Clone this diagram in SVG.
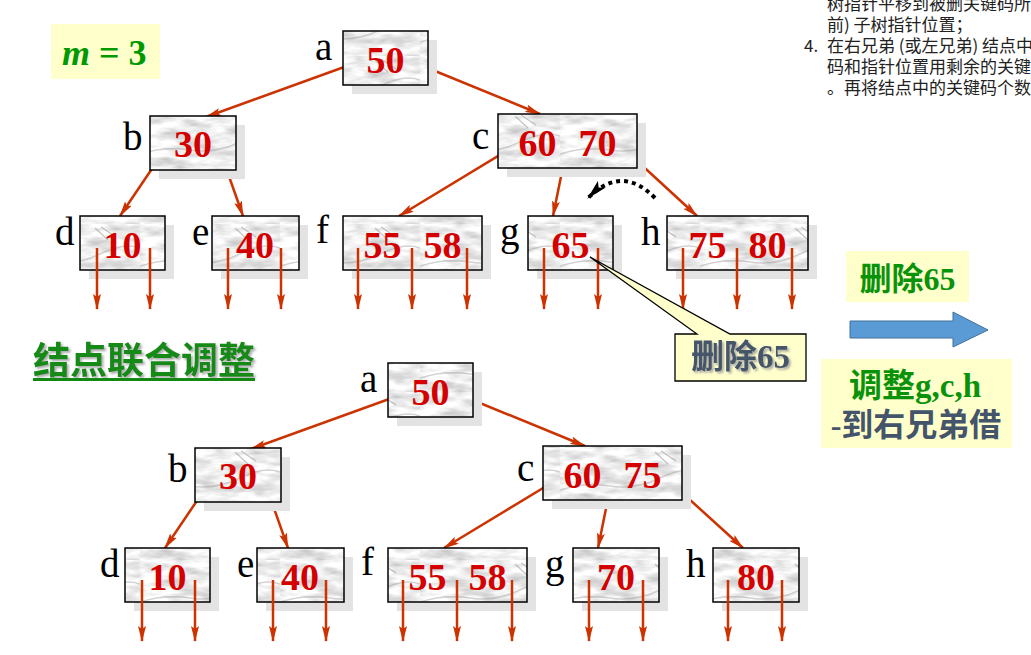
<svg xmlns="http://www.w3.org/2000/svg" width="1031" height="655" viewBox="0 0 1031 655">
<style>
.shadow{fill:#e3e3e3}
.box{fill:url(#marble);stroke:#000;stroke-width:1.5}
.key{font-family:"Liberation Serif",serif;font-weight:bold;font-size:38px;fill:#d40000;text-anchor:middle}
.lbl{font-family:"Liberation Serif",serif;font-size:39px;fill:#000}
.edge{stroke:#cc3300;stroke-width:2.5;fill:none;marker-end:url(#ah)}
.ptr{stroke:#cc3300;stroke-width:2.5;fill:none;marker-end:url(#ah)}
.note{font-family:"Noto Sans CJK SC",sans-serif;font-size:17px;fill:#222}
.cjk{font-family:"Liberation Serif","Noto Sans CJK SC",serif;font-weight:bold}
</style>
<defs>
<marker id="ah" markerUnits="userSpaceOnUse" viewBox="0 0 16 8" markerWidth="16" markerHeight="8" refX="15" refY="4" orient="auto">
<path d="M0,0 L16,4 L0,8 L3,4 Z" fill="#cc3300"/>
</marker>
<marker id="ahk" markerUnits="userSpaceOnUse" viewBox="0 0 20 10" markerWidth="20" markerHeight="10" refX="19" refY="5" orient="auto">
<path d="M0,0 L20,5 L0,10 L4,5 Z" fill="#000"/>
</marker>
<filter id="noise" x="0" y="0" width="100%" height="100%" color-interpolation-filters="sRGB">
<feTurbulence type="fractalNoise" baseFrequency="0.035 0.11" numOctaves="3" seed="7"/>
<feColorMatrix type="matrix" values="0.5 0 0 0 0.68  0.5 0 0 0 0.68  0.5 0 0 0 0.68  0 0 0 0 1"/>
</filter>
<pattern id="marble" patternUnits="userSpaceOnUse" width="140" height="56">
<rect width="140" height="56" fill="#eeeeee" filter="url(#noise)"/>
<path d="M0,42 Q25,34 50,38 T100,30 T140,24" stroke="#a8a8a8" stroke-width="1.5" fill="none" opacity="0.5"/>
<path d="M95,4 L108,16 M101,3 L116,13" stroke="#8a8a8a" stroke-width="1.2" opacity="0.5"/>
</pattern>
<filter id="ts" x="-10%" y="-10%" width="130%" height="140%">
<feDropShadow dx="2" dy="2" stdDeviation="1" flood-color="#9a9a9a" flood-opacity="0.8"/>
</filter>
</defs>

<g id="notes">
<text class="note" x="827" y="10">树指针平移到被删关键码所</text>
<text class="note" x="827" y="31">前) 子树指针位置；</text>
<text class="note" x="804" y="52">4.</text>
<text class="note" x="827" y="52">在右兄弟 (或左兄弟) 结点中</text>
<text class="note" x="827" y="73">码和指针位置用剩余的关键</text>
<text class="note" x="827" y="94">。再将结点中的关键码个数</text>
</g>

<g id="m3">
<rect x="51" y="24" width="109" height="55" fill="#ffffcc"/>
<text x="62" y="65" font-family="Liberation Serif,serif" font-size="36" font-weight="bold" fill="#009900"><tspan font-style="italic">m</tspan> = 3</text>
</g>

<g id="title">
<text x="33" y="374" font-family="Noto Sans CJK SC,sans-serif" font-size="37" font-weight="bold" fill="#128a12" filter="url(#ts)">结点联合调整</text>
<line x1="33" y1="379.5" x2="255" y2="379.5" stroke="#128a12" stroke-width="3"/>
</g>

<g id="connectors">
<line class="edge" x1="358" y1="62" x2="206" y2="117"/>
<line class="edge" x1="413" y1="62" x2="540" y2="114"/>
<line class="edge" x1="166" y1="148" x2="120" y2="216"/>
<line class="edge" x1="219" y1="148" x2="243" y2="216"/>
<line class="edge" x1="513" y1="147" x2="399" y2="216"/>
<line class="edge" x1="567" y1="147" x2="553" y2="216"/>
<line class="edge" x1="622" y1="147" x2="697" y2="216"/>
<line class="edge" x1="403" y1="394" x2="251" y2="449"/>
<line class="edge" x1="458" y1="394" x2="585" y2="446"/>
<line class="edge" x1="211" y1="480" x2="165" y2="548"/>
<line class="edge" x1="264" y1="480" x2="288" y2="548"/>
<line class="edge" x1="558" y1="479" x2="444" y2="548"/>
<line class="edge" x1="612" y1="479" x2="598" y2="548"/>
<line class="edge" x1="667" y1="479" x2="743" y2="548"/>
<path d="M655,198 Q622,164 588,198" stroke="#000" stroke-width="4" stroke-dasharray="4 4" fill="none" marker-end="url(#ahk)"/>
</g>

<g id="node-a">
<rect class="shadow" x="352" y="40" width="85" height="54"/>
<rect class="box" x="343" y="31" width="85" height="54"/>
<text class="lbl" x="315" y="60">a</text>
<text class="key" x="385.5" y="73">50</text>
</g>
<g id="node-b">
<rect class="shadow" x="159" y="125" width="86" height="54"/>
<rect class="box" x="150" y="116" width="86" height="54"/>
<text class="lbl" x="123" y="150">b</text>
<text class="key" x="193" y="157">30</text>
</g>
<g id="node-c">
<rect class="shadow" x="507" y="123" width="139" height="54"/>
<rect class="box" x="498" y="114" width="139" height="54"/>
<text class="lbl" x="472" y="149">c</text>
<text class="key" x="537.5" y="156">60</text>
<text class="key" x="597.5" y="156">70</text>
</g>
<g id="node-d">
<rect class="shadow" x="89" y="225" width="85" height="54"/>
<rect class="box" x="80" y="216" width="85" height="54"/>
<text class="lbl" x="55" y="245">d</text>
<text class="key" x="122.5" y="258">10</text>
<line class="ptr" x1="97" y1="248" x2="97" y2="309"/>
<line class="ptr" x1="150" y1="248" x2="150" y2="309"/>
</g>
<g id="node-e">
<rect class="shadow" x="221" y="225" width="87" height="54"/>
<rect class="box" x="212" y="216" width="87" height="54"/>
<text class="lbl" x="192" y="245">e</text>
<text class="key" x="255" y="258">40</text>
<line class="ptr" x1="228" y1="248" x2="228" y2="309"/>
<line class="ptr" x1="281" y1="248" x2="281" y2="309"/>
</g>
<g id="node-f">
<rect class="shadow" x="352" y="225" width="139" height="54"/>
<rect class="box" x="343" y="216" width="139" height="54"/>
<text class="lbl" x="316" y="243">f</text>
<text class="key" x="382.5" y="258">55</text>
<text class="key" x="442.5" y="258">58</text>
<line class="ptr" x1="358" y1="248" x2="358" y2="309"/>
<line class="ptr" x1="412" y1="248" x2="412" y2="309"/>
<line class="ptr" x1="467" y1="248" x2="467" y2="309"/>
</g>
<g id="node-g">
<rect class="shadow" x="537" y="225" width="85" height="54"/>
<rect class="box" x="528" y="216" width="85" height="54"/>
<text class="lbl" x="500" y="245">g</text>
<text class="key" x="570.5" y="258">65</text>
<line class="ptr" x1="544" y1="248" x2="544" y2="309"/>
<line class="ptr" x1="598" y1="248" x2="598" y2="309"/>
</g>
<g id="node-h">
<rect class="shadow" x="676" y="225" width="141" height="54"/>
<rect class="box" x="667" y="216" width="141" height="54"/>
<text class="lbl" x="641" y="245">h</text>
<text class="key" x="707.5" y="258">75</text>
<text class="key" x="767.5" y="258">80</text>
<line class="ptr" x1="683" y1="248" x2="683" y2="309"/>
<line class="ptr" x1="737" y1="248" x2="737" y2="309"/>
<line class="ptr" x1="792" y1="248" x2="792" y2="309"/>
</g>

<g id="callout">
<path d="M590,257 L697,334 L675,334 L675,381 L806,381 L806,334 L730,334 Z" fill="#ffffcc" stroke="#000" stroke-width="1.3"/>
<text class="cjk" x="740.5" y="368" font-size="33" fill="#44546a" text-anchor="middle" filter="url(#ts)">删除65</text>
</g>

<g id="label-delete">
<rect x="846" y="251" width="123" height="51" fill="#ffffcc"/>
<text class="cjk" x="907.5" y="290" font-size="32" fill="#0a930a" text-anchor="middle">删除65</text>
</g>

<g id="big-arrow">
<polygon points="850,321 953,321 953,312 988,330 953,347 953,338 850,338" fill="#5b9bd5" stroke="#41719c" stroke-width="1"/>
</g>

<g id="label-adjust">
<rect x="821" y="359" width="191" height="89" fill="#ffffcc"/>
<text class="cjk" x="915" y="397" font-size="33" fill="#0a930a" text-anchor="middle">调整g,c,h</text>
<text class="cjk" x="916" y="436" font-size="32" fill="#44546a" text-anchor="middle">-到右兄弟借</text>
</g>

<g id="node-a2">
<rect class="shadow" x="397" y="372" width="85" height="54"/>
<rect class="box" x="388" y="363" width="85" height="54"/>
<text class="lbl" x="360" y="392">a</text>
<text class="key" x="430.5" y="405">50</text>
</g>
<g id="node-b2">
<rect class="shadow" x="204" y="457" width="86" height="54"/>
<rect class="box" x="195" y="448" width="86" height="54"/>
<text class="lbl" x="168" y="482">b</text>
<text class="key" x="238" y="489">30</text>
</g>
<g id="node-c2">
<rect class="shadow" x="552" y="455" width="139" height="54"/>
<rect class="box" x="543" y="446" width="139" height="54"/>
<text class="lbl" x="517" y="481">c</text>
<text class="key" x="582.5" y="488">60</text>
<text class="key" x="642.5" y="488">75</text>
</g>
<g id="node-d2">
<rect class="shadow" x="134" y="557" width="85" height="54"/>
<rect class="box" x="125" y="548" width="85" height="54"/>
<text class="lbl" x="100" y="577">d</text>
<text class="key" x="167.5" y="590">10</text>
<line class="ptr" x1="142" y1="580" x2="142" y2="641"/>
<line class="ptr" x1="195" y1="580" x2="195" y2="641"/>
</g>
<g id="node-e2">
<rect class="shadow" x="266" y="557" width="87" height="54"/>
<rect class="box" x="257" y="548" width="87" height="54"/>
<text class="lbl" x="237" y="577">e</text>
<text class="key" x="300" y="590">40</text>
<line class="ptr" x1="273" y1="580" x2="273" y2="641"/>
<line class="ptr" x1="326" y1="580" x2="326" y2="641"/>
</g>
<g id="node-f2">
<rect class="shadow" x="397" y="557" width="139" height="54"/>
<rect class="box" x="388" y="548" width="139" height="54"/>
<text class="lbl" x="361" y="575">f</text>
<text class="key" x="427.5" y="590">55</text>
<text class="key" x="487.5" y="590">58</text>
<line class="ptr" x1="403" y1="580" x2="403" y2="641"/>
<line class="ptr" x1="457" y1="580" x2="457" y2="641"/>
<line class="ptr" x1="512" y1="580" x2="512" y2="641"/>
</g>
<g id="node-g2">
<rect class="shadow" x="582" y="557" width="86" height="54"/>
<rect class="box" x="573" y="548" width="86" height="54"/>
<text class="lbl" x="545" y="577">g</text>
<text class="key" x="616" y="590">70</text>
<line class="ptr" x1="589" y1="580" x2="589" y2="641"/>
<line class="ptr" x1="643" y1="580" x2="643" y2="641"/>
</g>
<g id="node-h2">
<rect class="shadow" x="722" y="557" width="86" height="54"/>
<rect class="box" x="713" y="548" width="86" height="54"/>
<text class="lbl" x="686" y="577">h</text>
<text class="key" x="756" y="590">80</text>
<line class="ptr" x1="728" y1="580" x2="728" y2="641"/>
<line class="ptr" x1="782" y1="580" x2="782" y2="641"/>
</g>
</svg>
